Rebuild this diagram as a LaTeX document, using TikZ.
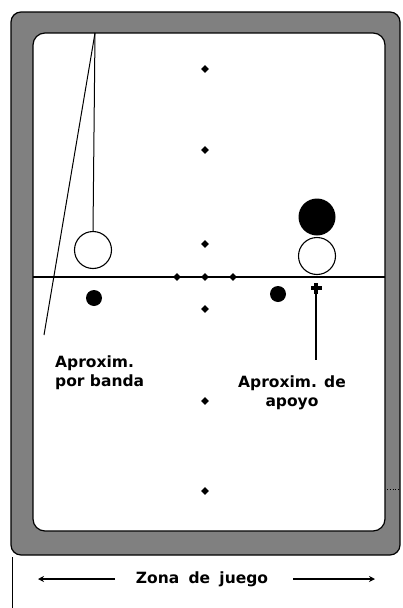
\documentclass[tikz,border=0pt]{standalone}
\usepackage{fontspec}
\setmainfont{DejaVu Sans}
\usetikzlibrary{shapes.geometric,arrows.meta}
\definecolor{cushion}{RGB}{128,128,128}
\tikzset{
  diam/.style={diamond,fill=black,inner sep=0pt,minimum size=8pt},
  ballw/.style={circle,draw=black,line width=1.1pt,fill=white,inner sep=0pt,minimum size=37pt},
  ballb/.style={circle,fill=black,inner sep=0pt,minimum size=37pt},
  ballsmall/.style={circle,fill=black,inner sep=0pt,minimum size=16pt},
  lbl/.style={font=\fontsize{15.5}{22}\selectfont\bfseries,inner sep=0pt,align=left},
  ln/.style={line width=1.2pt},
}
\begin{document}
\begin{tikzpicture}[x=1pt,y=-1pt]
\useasboundingbox (0,0) rectangle (403,608);
% table
\draw[fill=cushion,line width=1.2pt,rounded corners=10pt] (11,12) rectangle (400,555);
\draw[fill=white,line width=1.2pt,rounded corners=12pt] (33,33) rectangle (385,531);
% centre line
\coordinate (hl) at (33,277);
\coordinate (hr) at (385,277);
\draw[ln] (hl) -- (hr);
% diamonds
\foreach \n/\px/\py in {d1/205/69,d2/205/150,d3/205/244,d4/205/277,d5/205/309,d6/205/401,d7/205/491,d8/177/277,d9/233/277}
  \node[diam] (\n) at (\px,\py) {};
% left approach
\coordinate (top) at (95,33);
\coordinate (bandend) at (44,335);
\node[ballw] (wl) at (93,250) {};
\node[ballsmall] (bl) at (94,298) {};
\draw[line width=1pt] (top) -- (wl.north);
\draw[line width=1pt] (top) -- (bandend);
% right approach
\node[ballb] (br) at (317,217) {};
\node[ballw] (wr) at (317,256) {};
\node[ballsmall] (bs) at (278,294) {};
\node[fill=black,inner sep=0pt,minimum width=11pt,minimum height=4pt] (crossh) at (316,288) {};
\node[fill=black,inner sep=0pt,minimum width=4pt,minimum height=11pt] (crossv) at (316,288) {};
\coordinate (crossend) at (316,360);
\draw[line width=1.2pt] (crossv.south) -- (crossend);
% labels
\node[lbl,anchor=north west] (t1) at (55,356) {Aproxim.\\[-3pt]por banda};
\node[lbl,align=center,anchor=north] (t2) at (292,376) {Aproxim. de\\[-3pt]apoyo};
% bottom
\node[font=\fontsize{15.5}{18}\selectfont\bfseries,inner sep=0pt] (zona) at (202,579) {Zona\hspace{0.6em}de\hspace{0.6em}juego};
\coordinate (al) at (38,579);
\coordinate (ar) at (375,579);
\draw[ln,-{Stealth[length=6pt,width=6pt]}] (115,579) -- (al);
\draw[ln,-{Stealth[length=6pt,width=6pt]}] (293,579) -- (ar);
\coordinate (vt) at (12,557);
\coordinate (vb) at (12,608);
\draw[line width=1pt] (vt) -- (vb);
\coordinate (dotl) at (387,489);
\coordinate (dotr) at (400,489);
\draw[line width=0.8pt,dotted] (dotl) -- (dotr);
\end{tikzpicture}
\end{document}
